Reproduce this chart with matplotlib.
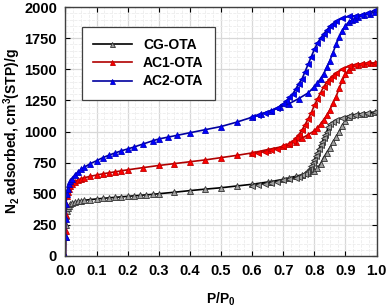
import matplotlib
matplotlib.use('Agg')
import matplotlib.pyplot as plt
from matplotlib.ticker import MultipleLocator

plt.rcParams['font.family'] = ['Liberation Sans', 'DejaVu Sans']
plt.rcParams['font.weight'] = 'bold'
plt.rcParams['mathtext.default'] = 'regular'

# CG-OTA
cg_ads_x = [0, 0.0005, 0.001, 0.002, 0.004, 0.007, 0.01, 0.015, 0.02, 0.03, 0.04, 0.05, 0.06, 0.08,
            0.1, 0.12, 0.14, 0.16, 0.18, 0.2, 0.22, 0.24, 0.26, 0.28, 0.3, 0.35, 0.4, 0.45, 0.5,
            0.55, 0.6, 0.65, 0.66, 0.7, 0.72, 0.74, 0.76, 0.78, 0.8, 0.81, 0.82, 0.83, 0.84, 0.85,
            0.86, 0.87, 0.88, 0.89, 0.9, 0.91, 0.92, 0.94, 0.96, 0.98, 0.995]
cg_ads_y = [0, 150, 250, 320, 360, 385, 400, 415, 422, 432, 438, 443, 447, 453,
            458, 463, 467, 471, 475, 479, 483, 487, 491, 495, 500, 512, 525, 537, 548,
            562, 576, 594, 597, 616, 628, 640, 652, 665, 680, 705, 740, 790, 830, 870,
            915, 955, 1000, 1045, 1085, 1115, 1130, 1138, 1143, 1150, 1155]
cg_des_x = [0.995, 0.97, 0.95, 0.93, 0.91, 0.89, 0.87, 0.86, 0.85, 0.845, 0.84, 0.835, 0.83, 0.825,
            0.82, 0.815, 0.81, 0.805, 0.8, 0.795, 0.79, 0.785, 0.78, 0.775, 0.77, 0.76, 0.75, 0.74,
            0.72, 0.7, 0.68, 0.66, 0.64, 0.62, 0.6]
cg_des_y = [1155, 1150, 1143, 1135, 1125, 1110, 1090, 1075, 1060, 1035, 1000, 970, 945, 915,
            890, 860, 830, 800, 775, 745, 720, 700, 685, 672, 662, 648, 638, 630,
            618, 608, 598, 590, 582, 574, 566]

# AC1-OTA
ac1_ads_x = [0, 0.0005, 0.001, 0.002, 0.004, 0.007, 0.01, 0.015, 0.02, 0.03, 0.04, 0.05, 0.06, 0.08,
             0.1, 0.12, 0.14, 0.16, 0.18, 0.2, 0.25, 0.3, 0.35, 0.4, 0.45, 0.5, 0.55, 0.6, 0.65,
             0.7, 0.72, 0.74, 0.76, 0.78, 0.8, 0.81, 0.82, 0.83, 0.84, 0.85, 0.86, 0.87, 0.88,
             0.89, 0.9, 0.91, 0.92, 0.94, 0.96, 0.98, 0.995]
ac1_ads_y = [0, 200, 330, 420, 480, 515, 540, 565, 580, 598, 610, 620, 628, 640,
             650, 660, 668, 676, 684, 692, 710, 727, 742, 757, 772, 790, 808, 828, 855,
             880, 898, 918, 945, 975, 1005, 1030, 1060, 1095, 1130, 1175, 1230, 1280, 1350,
             1410, 1460, 1495, 1520, 1535, 1543, 1548, 1552]
ac1_des_x = [0.995, 0.97, 0.95, 0.93, 0.91, 0.89, 0.87, 0.86, 0.85, 0.84, 0.83, 0.82, 0.81, 0.8,
             0.79, 0.78, 0.77, 0.76, 0.75, 0.74, 0.73, 0.72, 0.7, 0.68, 0.66, 0.64, 0.62, 0.6]
ac1_des_y = [1552, 1548, 1545, 1538, 1525, 1500, 1470, 1450, 1425, 1395, 1360, 1310, 1260, 1210,
             1150, 1100, 1055, 1010, 975, 945, 920, 900, 880, 862, 848, 838, 830, 822]

# AC2-OTA
ac2_ads_x = [0, 0.0005, 0.001, 0.002, 0.004, 0.007, 0.01, 0.015, 0.02, 0.03, 0.04, 0.05, 0.06, 0.08,
             0.1, 0.12, 0.14, 0.16, 0.18, 0.2, 0.22, 0.25, 0.28, 0.3, 0.33, 0.36, 0.4, 0.45, 0.5,
             0.55, 0.6, 0.63, 0.66, 0.69, 0.72, 0.75, 0.78, 0.8, 0.81, 0.82, 0.83, 0.84, 0.85,
             0.86, 0.87, 0.88, 0.89, 0.9, 0.91, 0.92, 0.93, 0.94, 0.96, 0.98, 0.995]
ac2_ads_y = [0, 150, 300, 420, 500, 540, 575, 600, 620, 650, 675, 695, 712, 742,
             765, 790, 810, 828, 845, 860, 875, 900, 925, 940, 955, 970, 990, 1015, 1040,
             1075, 1115, 1140, 1165, 1195, 1225, 1265, 1310, 1360, 1390, 1425, 1465, 1515, 1570,
             1635, 1700, 1760, 1810, 1850, 1878, 1895, 1908, 1920, 1935, 1948, 1960]
ac2_des_x = [0.995, 0.97, 0.95, 0.93, 0.91, 0.89, 0.87, 0.86, 0.85, 0.84, 0.83, 0.82, 0.81, 0.8,
             0.79, 0.78, 0.77, 0.76, 0.75, 0.74, 0.73, 0.72, 0.71, 0.7, 0.68, 0.66, 0.64, 0.62, 0.6]
ac2_des_y = [1975, 1950, 1938, 1930, 1925, 1910, 1885, 1868, 1845, 1815, 1785, 1750, 1710, 1660,
             1600, 1540, 1480, 1420, 1385, 1340, 1300, 1275, 1245, 1220, 1190, 1168, 1150, 1132, 1115]

fig = plt.figure(figsize=(3.87, 3.08), dpi=100)
ax = fig.add_axes([0.169, 0.169, 0.804, 0.808])

series = [
    ('CG-OTA', cg_ads_x, cg_ads_y, cg_des_x, cg_des_y, 'black', '#a0a0a0', '#303030'),
    ('AC1-OTA', ac1_ads_x, ac1_ads_y, ac1_des_x, ac1_des_y, '#b00000', '#ff0000', '#c00000'),
    ('AC2-OTA', ac2_ads_x, ac2_ads_y, ac2_des_x, ac2_des_y, '#0000a0', '#0000ff', '#0000c0'),
]

for name, ax_, ay_, dx_, dy_, lc, mfc, mec in series:
    ax.plot(ax_, ay_, color=lc, lw=1.2, marker='^', ms=4.5, mfc=mfc, mec=mec, mew=0.6, label=name)
    ax.plot(dx_, dy_, color=lc, lw=1.2, marker='<', ms=4.5, mfc=mfc, mec=mec, mew=0.6)

ax.set_xlim(0, 1.0)
ax.set_ylim(0, 2000)
ax.xaxis.set_major_locator(MultipleLocator(0.1))
ax.xaxis.set_minor_locator(MultipleLocator(0.025))
ax.yaxis.set_major_locator(MultipleLocator(250))
ax.yaxis.set_minor_locator(MultipleLocator(50))
ax.set_xticklabels(['%.1f' % v for v in ax.get_xticks()])

ax.grid(True, which='major', color='#d8d8d8', lw=0.9)
ax.grid(True, which='minor', color='#ececec', lw=0.6, linestyle='--')
ax.set_axisbelow(True)

ax.tick_params(which='major', direction='in', length=3.5, width=0.8, top=True, right=True,
               labelsize=10.5, pad=6)
ax.tick_params(which='minor', length=0, top=True, right=True)
for s in ax.spines.values():
    s.set_color('#404040')
    s.set_linewidth(1.0)

ax.set_xlabel('P/P$_0$', fontsize=10, fontweight='bold')
ax.set_ylabel('N$_2$ adsorbed, cm$^3$(STP)/g', fontsize=10, fontweight='bold')
ax.xaxis.set_label_coords(0.5, -0.14)
ax.yaxis.set_label_coords(-0.135, 0.5)

leg = ax.legend(loc='upper left', bbox_to_anchor=(0.053, 0.92), borderaxespad=0,
                fontsize=10, fancybox=False, edgecolor='#404040', framealpha=1,
                handlelength=2.8, numpoints=1, markerscale=0.8, borderpad=0.8, labelspacing=0.3)
leg.get_frame().set_linewidth(0.9)

plt.savefig('out.png', dpi=100)
